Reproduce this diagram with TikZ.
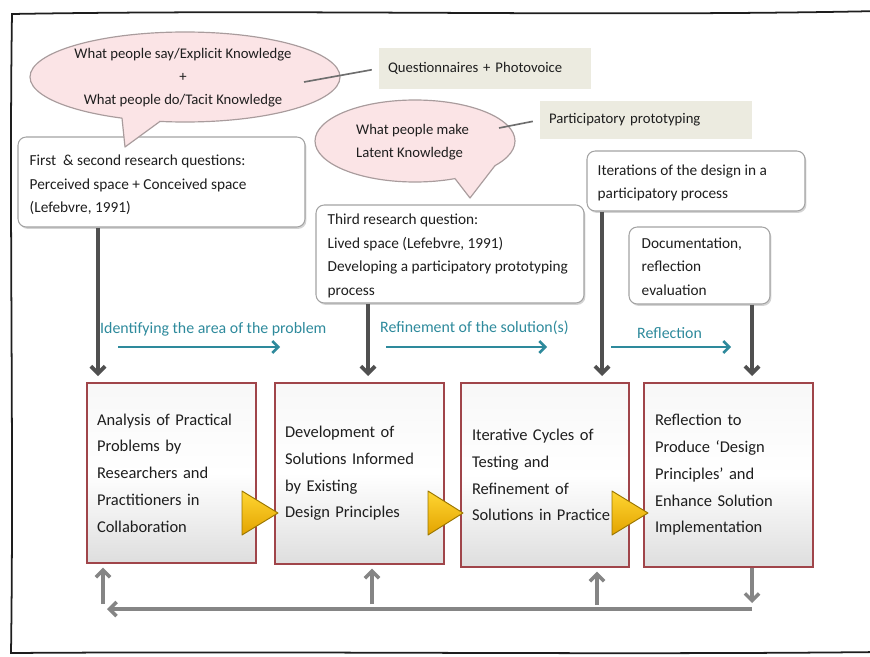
\documentclass[tikz,border=0pt]{standalone}
\usepackage{fontspec}
\setmainfont{Carlito}
\usepackage{xcolor}
\usepackage{tikz}
\usetikzlibrary{arrows.meta,shadows,calc,positioning}
\definecolor{ink}{HTML}{1E1E1E}
\definecolor{bubblefill}{HTML}{FBE4E6}
\definecolor{bubbleedge}{HTML}{A99C9D}
\definecolor{notefill}{HTML}{ECEBE0}
\definecolor{linkgray}{HTML}{6E6E6E}
\definecolor{boxedge}{HTML}{A3A3A3}
\definecolor{darkarrow}{HTML}{505050}
\definecolor{loopgray}{HTML}{858585}
\definecolor{flowteal}{HTML}{2E8A9C}
\definecolor{stepedge}{HTML}{A0454A}
\definecolor{goldlight}{HTML}{FFD632}
\definecolor{golddark}{HTML}{E3A300}
\definecolor{goldedge}{HTML}{9A7600}
\newcommand{\pxu}{0.85pt}
\tikzset{
  frame/.style={draw=ink, line width=1.5pt, line cap=round},
  bubble/.style={fill=bubblefill, draw=bubbleedge, line width=1pt},
  btext/.style={text=ink, font=\fontsize{12.5}{19.5}\selectfont},
  note/.style={fill=notefill, text=ink, inner sep=0pt, align=left,
    font=\fontsize{12.5}{14}\selectfont},
  link/.style={draw=linkgray, line width=1.4pt},
  qbox/.style={draw=boxedge, fill=white, rounded corners=7pt, line width=0.9pt,
    drop shadow={opacity=0.35, shadow xshift=1.2pt, shadow yshift=-1.6pt},
    inner sep=0pt},
  qtext/.style={anchor=west, inner sep=0pt, align=left, text=ink,
    font=\fontsize{13}{20}\selectfont},
  stepbox/.style={draw=stepedge, line width=2pt, top color=black!3,
    bottom color=black!13, middle color=white, inner sep=0pt, align=left,
    text=ink, font=\fontsize{14}{22.7}\selectfont},
  pointer/.style={draw=goldedge, line width=0.8pt, top color=goldlight,
    bottom color=golddark, line join=round},
  darr/.style={draw=darkarrow, line width=3.2pt,
    -{Straight Barb[length=6pt, width=12pt]}},
  larr/.style={draw=loopgray, line width=3pt,
    -{Straight Barb[length=6pt, width=12pt]}},
  farr/.style={draw=flowteal, line width=2.2pt,
    -{Straight Barb[length=5pt, width=10pt]}},
  flowlbl/.style={text=flowteal, font=\fontsize{13.5}{14}\selectfont, inner sep=0pt}
}
\begin{document}
\begin{tikzpicture}[x=0.85pt, y=-0.85pt]
  \useasboundingbox (0,0) rectangle (870,656);
  % hand-drawn frame, open to the right
  \draw[frame] (880,11) .. controls (600,17) and (300,9) .. (12,14)
    .. controls (9,200) and (14,450) .. (11,653)
    .. controls (300,651) and (600,655) .. (880,652);

  % research question boxes
  \node[qbox, minimum width=287*\pxu, minimum height=90*\pxu] (firstq) at (161.5,182) {};
  \node[qtext] (firsttxt) at ([xshift=12*\pxu, yshift=-3*\pxu]firstq.west)
    {First ~\& second research questions:\\
    Perceived space + Conceived space\\ (Lefebvre, 1991)};
  \node[qbox, minimum width=268*\pxu, minimum height=98*\pxu] (thirdq) at (450,254) {};
  \node[qtext] (thirdtxt) at ([xshift=12*\pxu, yshift=-2*\pxu]thirdq.west)
    {Third research question:\\ Lived space (Lefebvre, 1991)\\
    Developing a participatory prototyping\\ process};
  \node[qbox, minimum width=218*\pxu, minimum height=60*\pxu] (iterq) at (696,181) {};
  \node[qtext] (itertxt) at ([xshift=11*\pxu, yshift=-2*\pxu]iterq.west)
    {Iterations of the design in a\\ participatory process};
  \node[qbox, minimum width=141*\pxu, minimum height=77*\pxu] (docq) at (699.5,265.5) {};
  \node[qtext] (doctxt) at ([xshift=13*\pxu, yshift=-1*\pxu]docq.west)
    {Documentation,\\ reflection\\ evaluation};

  % speech bubbles
  \path[bubble] (185,77) ellipse [x radius=155, y radius=45];
  \fill[bubblefill] (122,118.1) -- (125,147) -- (160,121.4) -- (150,110) -- (130,108) -- cycle;
  \draw[bubbleedge, line width=1pt, line join=round] (122,118.1) -- (125,147) -- (160,121.4);
  \node[btext, align=center] (saytext) at (183,78)
    {What people say/Explicit Knowledge\\ +\\ What people do/Tacit Knowledge};

  \path[bubble] (415,141) ellipse [x radius=100, y radius=41];
  \fill[bubblefill] (455,178.6) -- (470,198) -- (495,165.6) -- (485,160) -- (460,168) -- cycle;
  \draw[bubbleedge, line width=1pt, line join=round] (455,178.6) -- (470,198) -- (495,165.6);
  \node[btext, align=left, anchor=west] (maketext) at (352,142.5)
    {What people make\\ Latent Knowledge};

  % method notes
  \node[note, minimum width=212*\pxu, minimum height=41*\pxu, text width=194*\pxu]
    (quest) at (485,68.5) {Questionnaires + Photovoice};
  \node[note, minimum width=212*\pxu, minimum height=38*\pxu, text width=194*\pxu]
    (proto) at (646,120) {Participatory prototyping};
  \coordinate (saylink) at (304,82);
  \coordinate (makelink) at (499,128);
  \draw[link, shorten >=6pt] (saylink) -- (quest.west);
  \draw[link, shorten >=6pt] (makelink) -- (proto.west);

  % design research phases
  \node[stepbox, minimum width=169*\pxu, minimum height=180*\pxu, text width=149*\pxu]
    (stepA) at (171.5,473) {Analysis of Practical\\ Problems by\\ Researchers and\\
    Practitioners in\\ Collaboration};
  \node[stepbox, minimum width=169*\pxu, minimum height=181*\pxu, text width=149*\pxu]
    (stepB) at (359.5,473.5) {Development of\\ Solutions Informed\\ by Existing\\
    Design Principles};
  \node[stepbox, minimum width=168*\pxu, minimum height=184*\pxu, text width=146*\pxu]
    (stepC) at (545,475) {Iterative Cycles of\\ Testing and\\ Refinement of\\
    Solutions in Practice};
  \node[stepbox, minimum width=169*\pxu, minimum height=184*\pxu, text width=147*\pxu]
    (stepD) at (728.5,475) {Reflection to\\ Produce ‘Design\\ Principles’ and\\
    Enhance Solution\\ Implementation};

  \draw[pointer] (242,491) -- (278,513) -- (242,535) -- cycle;
  \draw[pointer] (428,491) -- (463,513) -- (428,535) -- cycle;
  \draw[pointer] (612,491) -- (648,513) -- (612,535) -- cycle;

  % inputs from the research questions
  \coordinate (inA) at (98,376);
  \coordinate (inB) at (368,376);
  \coordinate (inC) at (602,376);
  \coordinate (inD) at (752,376);
  \draw[darr] (firstq.south -| inA) -- (inA);
  \draw[darr] (thirdq.south -| inB) -- (inB);
  \draw[darr] (iterq.south -| inC) -- (inC);
  \draw[darr] (docq.south -| inD) -- (inD);

  % flow labels
  \node[flowlbl, anchor=west] (idlbl) at (100,329) {Identifying the area of the problem};
  \node[flowlbl, anchor=west] (reflbl) at (380,328) {Refinement of the solution(s)};
  \node[flowlbl, anchor=west] (rfllbl) at (637,333) {Reflection};
  \coordinate (idS) at (118,347);   \coordinate (idE) at (280,347);
  \coordinate (refS) at (386,347);  \coordinate (refE) at (547,347);
  \coordinate (rflS) at (611,347);  \coordinate (rflE) at (731,347);
  \draw[farr] (idS) -- (idE);
  \draw[farr] (refS) -- (refE);
  \draw[farr] (rflS) -- (rflE);

  % feedback loop
  \coordinate (upA) at (103,604);
  \coordinate (upB) at (372,604);
  \coordinate (upC) at (597,605);
  \coordinate (downD) at (752,603);
  \coordinate (loopR) at (752,609);
  \coordinate (loopL) at (107,609);
  \draw[larr] (stepD.south -| downD) -- (downD);
  \draw[larr, line cap=butt] (loopR) -- (loopL);
  \draw[larr, shorten >=3pt] (upA) -- (upA |- stepA.south);
  \draw[larr, shorten >=3pt] (upB) -- (upB |- stepB.south);
  \draw[larr, shorten >=3pt] (upC) -- (upC |- stepC.south);
\end{tikzpicture}
\end{document}
